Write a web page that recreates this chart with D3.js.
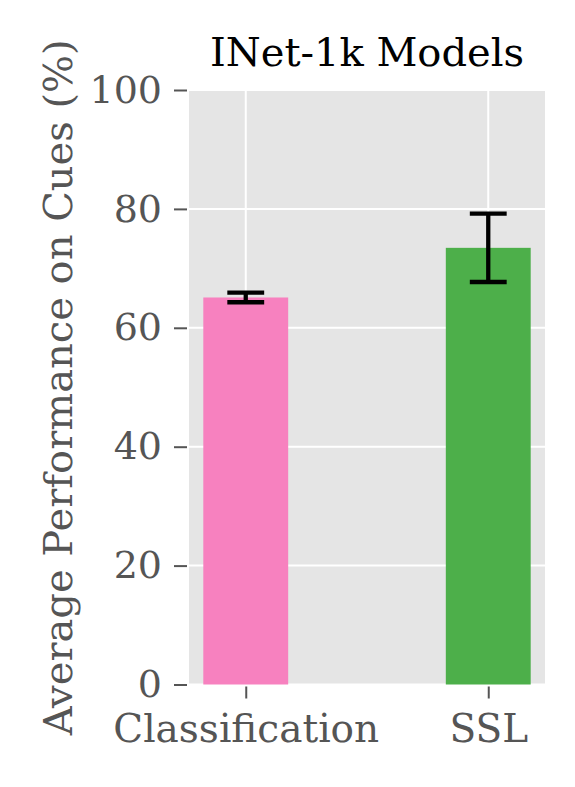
<!DOCTYPE html>
<html lang="en">
<head>
  <meta charset="UTF-8">
  <title>INet-1k Models</title>
  <style>
    body { margin: 0; background: #fff; }
    text { font-family: 'DejaVu Serif', serif; }
  </style>
</head>
<body>
  <div class="workspace"></div>
  <script src="https://cdn.jsdelivr.net/npm/d3@7"></script>
  <script>
    const categories = ['Classification', 'SSL']
    const means = [65.1, 73.45]
    const errors = [0.8, 5.75]
    const barColors = ['#F781BF', '#4DAF4A']
    const yTicks = [0, 20, 40, 60, 80, 100]

    const width = 575
    const height = 787
    const margin = { top: 90, left: 189, bottom: 102, right: 30 }

    const svg = d3.select('.workspace').append('svg')
      .attr('width', width)
      .attr('height', height)

    const x = d3.scaleLinear()
      .domain([-0.234, 1.234])
      .range([margin.left, width - margin.right])
    const y = d3.scaleLinear()
      .domain([0, 100])
      .range([height - margin.bottom - 0.5, margin.top])
    const barWidth = 0.35

    // panel background
    svg.append('rect')
      .attr('x', x.range()[0])
      .attr('y', y(100))
      .attr('width', x.range()[1] - x.range()[0])
      .attr('height', y(0) - y(100))
      .attr('fill', '#E5E5E5')

    // grid
    const grid = svg.append('g')
    grid.selectAll('.hgrid')
      .data(yTicks)
      .enter().append('line')
      .attr('x1', x.range()[0])
      .attr('x2', x.range()[1])
      .attr('y1', d => y(d))
      .attr('y2', d => y(d))
      .attr('stroke', '#fff')
      .attr('stroke-width', 2)
    grid.selectAll('.vgrid')
      .data(categories)
      .enter().append('line')
      .attr('x1', (d, i) => x(i))
      .attr('x2', (d, i) => x(i))
      .attr('y1', y(0))
      .attr('y2', y(100))
      .attr('stroke', '#fff')
      .attr('stroke-width', 2)

    // bars
    svg.selectAll('.bar')
      .data(means)
      .enter().append('rect')
      .attr('x', (d, i) => x(i - barWidth / 2))
      .attr('width', (d, i) => x(i + barWidth / 2) - x(i - barWidth / 2))
      .attr('y', d => y(d))
      .attr('height', d => y(0) - y(d))
      .attr('fill', (d, i) => barColors[i])

    // error bars
    const capHalf = 0.076
    const eb = svg.selectAll('.err')
      .data(means)
      .enter().append('g')
      .attr('stroke', '#000')
      .attr('stroke-width', 4.3)
    eb.append('line')
      .attr('x1', (d, i) => x(i)).attr('x2', (d, i) => x(i))
      .attr('y1', (d, i) => y(d - errors[i]))
      .attr('y2', (d, i) => y(d + errors[i]))
    eb.append('line')
      .attr('x1', (d, i) => x(i - capHalf)).attr('x2', (d, i) => x(i + capHalf))
      .attr('y1', (d, i) => y(d + errors[i]))
      .attr('y2', (d, i) => y(d + errors[i]))
    eb.append('line')
      .attr('x1', (d, i) => x(i - capHalf)).attr('x2', (d, i) => x(i + capHalf))
      .attr('y1', (d, i) => y(d - errors[i]))
      .attr('y2', (d, i) => y(d - errors[i]))

    // y axis
    const yAxis = svg.append('g')
      .attr('transform', `translate(${x.range()[0] - 2},0)`)
      .call(d3.axisLeft(y).tickValues(yTicks).tickSize(13).tickPadding(12))
    yAxis.select('.domain').remove()
    yAxis.selectAll('.tick line').attr('stroke', '#555').attr('stroke-width', 2)
    yAxis.selectAll('.tick text')
      .attr('fill', '#555')
      .style('font-size', '38px')
      .style('font-family', 'DejaVu Serif')

    // x axis
    const xAxis = svg.append('g')
      .attr('transform', `translate(0,${y(0) + 2})`)
      .call(d3.axisBottom(x).tickValues([0, 1]).tickFormat((d, i) => categories[i]).tickSize(12).tickPadding(16))
    xAxis.select('.domain').remove()
    xAxis.selectAll('.tick line').attr('stroke', '#555').attr('stroke-width', 2)
    xAxis.selectAll('.tick text')
      .attr('fill', '#555')
      .style('font-size', '39px')
      .style('font-family', 'DejaVu Serif')

    // title
    svg.append('text')
      .attr('x', (x.range()[0] + x.range()[1]) / 2)
      .attr('y', 66)
      .attr('text-anchor', 'middle')
      .attr('fill', '#000')
      .style('font-size', '40px')
      .text('INet-1k Models')

    // y label
    svg.append('text')
      .attr('transform', `translate(72,${(y(0) + y(100)) / 2}) rotate(-90)`)
      .attr('text-anchor', 'middle')
      .attr('fill', '#555')
      .style('font-size', '40px')
      .text('Average Performance on Cues (%)')
  </script>
</body>
</html>
